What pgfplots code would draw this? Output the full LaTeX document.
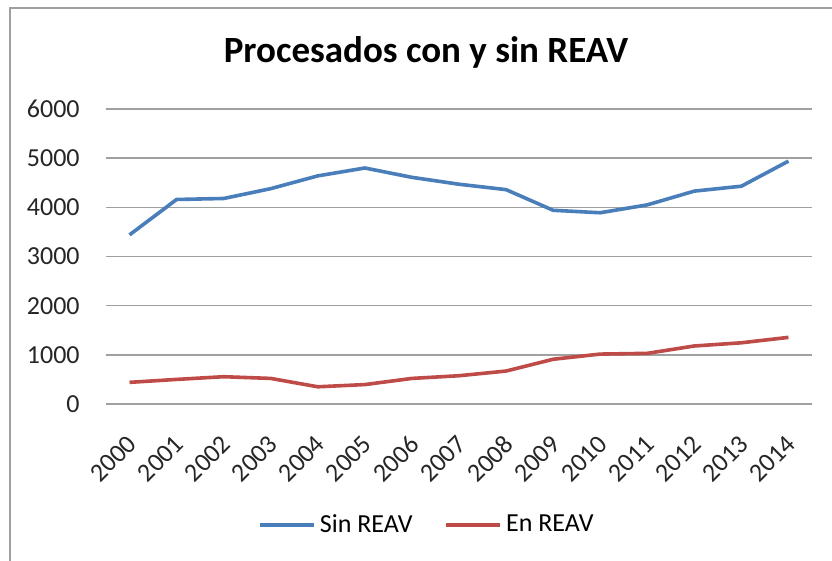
\documentclass[border=0pt]{standalone}
\usepackage{fontspec}
\setmainfont{Carlito}
\usepackage{pgfplots}
\pgfplotsset{compat=1.18}
\definecolor{xlblue}{RGB}{74,126,187}
\definecolor{xlred}{RGB}{190,75,72}
\definecolor{gridc}{RGB}{160,160,160}
\begin{document}
\begin{tikzpicture}
\path[use as bounding box] (0,0) rectangle (416pt,280.5pt);
\fill[white] (0,0) rectangle (416pt,280.5pt);
\draw[gray!75, line width=1.3pt] (5pt,0) -- (5pt,276.5pt) -- (416pt,276.5pt);
\node[font=\bfseries\fontsize{18.5}{22}\selectfont] at (213pt,254.5pt) {Procesados con y sin REAV};
\begin{axis}[
  at={(53pt,78.5pt)}, anchor=south west,
  scale only axis, width=353pt, height=147.5pt,
  xmin=-0.5, xmax=14.5, ymin=0, ymax=6000,
  axis line style={draw=none},
  ymajorgrids, grid style={gridc, line width=0.7pt},
  ytick={0,1000,2000,3000,4000,5000,6000},
  xtick={0,...,14},
  xticklabels={2000,2001,2002,2003,2004,2005,2006,2007,2008,2009,2010,2011,2012,2013,2014},
  major tick length=0pt,
  /pgf/number format/assume math mode=true,
  /pgf/number format/1000 sep={},
  tick label style={font=\fontsize{13}{15}\selectfont, text=black!85},
  yticklabel style={anchor=east, inner sep=0pt},
  yticklabel shift=13pt,
  xticklabel style={rotate=45, anchor=north east, inner sep=0pt, xshift=-2.5pt},
  xticklabel shift=13pt,
  legend style={at={(0.456,-0.41)}, anchor=center, draw=none, fill=none,
    legend columns=2, font=\fontsize{13}{15}\selectfont,
    /tikz/every even column/.append style={column sep=14pt}},
  legend cell align=left,
  legend image code/.code={\draw[#1, line width=1.8pt] (0pt,0pt) -- (27pt,0pt);},
  every axis plot/.append style={line width=1.8pt, line join=round},
]
\addplot[xlblue, mark=none] coordinates {
(0,3440)(1,4160)(2,4180)(3,4380)(4,4640)(5,4800)(6,4610)(7,4470)(8,4360)(9,3940)(10,3890)(11,4050)(12,4330)(13,4430)(14,4940)};
\addlegendentry{Sin REAV}
\addplot[xlred, mark=none] coordinates {
(0,440)(1,500)(2,555)(3,520)(4,350)(5,395)(6,520)(7,575)(8,670)(9,910)(10,1015)(11,1030)(12,1180)(13,1245)(14,1355)};
\addlegendentry{En REAV}
\end{axis}
\end{tikzpicture}
\end{document}
